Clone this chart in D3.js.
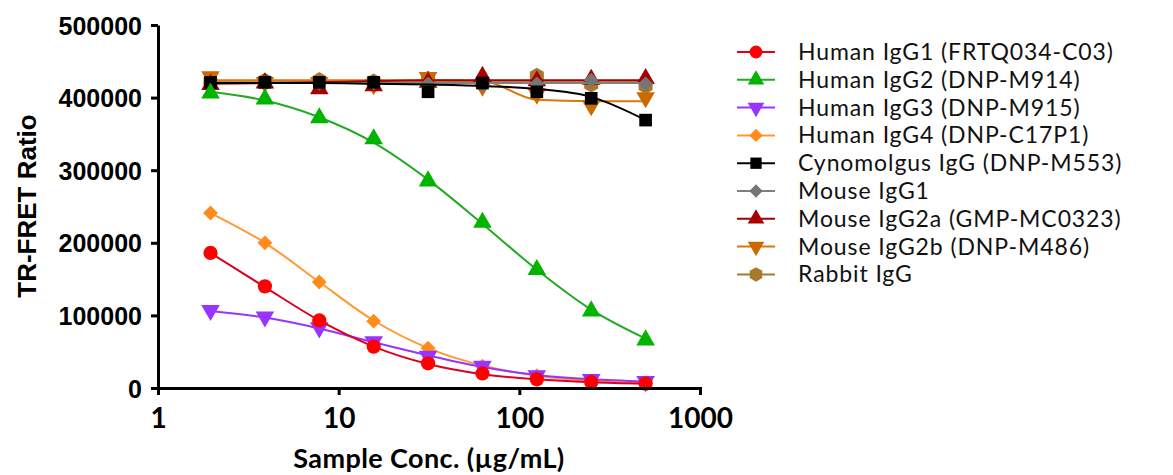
<!DOCTYPE html>
<html lang="en">
<head>
<meta charset="UTF-8" />
<title>TR-FRET Ratio vs Sample Conc.</title>
<script src="https://d3js.org/d3.v7.min.js"></script>
<style>
  body { margin: 0; background: #fff; }
  .axis path, .axis line { stroke: #000; stroke-width: 3px; }
  .ytick text { font: bold 25px "Liberation Sans", Arial, sans-serif; }
  .xtick text { font: bold 28px Lato, "Open Sans", sans-serif; }
  .legend text { font: 23px Lato, "Open Sans", sans-serif; fill: #111; letter-spacing: 0.9px; }
</style>
</head>
<body>
<div id="chart"></div>
<script>
// Concentrations (µg/mL), 2-fold serial dilution
const conc = [1.953, 3.906, 7.8125, 15.625, 31.25, 62.5, 125, 250, 500];

// Series names
const names = [
  "Human IgG1 (FRTQ034-C03)",
  "Human IgG2 (DNP-M914)",
  "Human IgG3 (DNP-M915)",
  "Human IgG4 (DNP-C17P1)",
  "Cynomolgus IgG (DNP-M553)",
  "Mouse IgG1",
  "Mouse IgG2a (GMP-MC0323)",
  "Mouse IgG2b (DNP-M486)",
  "Rabbit IgG"
];

const igg1Pts  = [186000, 140000, 93000, 57000, 34000, 20000, 12000, 8000, 6000];
const igg2Pts  = [406000, 398000, 372000, 343000, 285000, 228000, 163000, 106000, 66000];
const igg3Pts  = [107000, 98000, 83000, 64000, 44000, 30000, 17000, 12000, 9000];
const igg4Pts  = [241000, 200000, 146000, 92000, 55000, 30000, 17000, 10000, 7000];
const cynoPts  = [421000, 421000, 421000, 421000, 408000, 420000, 408000, 399000, 369000];
const m1Pts    = [420000, 421000, 420000, 420000, 419000, 418000, 419000, 424000, 419000];
const m2aPts   = [418000, 420000, 412000, 416000, 421000, 429000, 423000, 425000, 426000];
const m2bPts   = [429000, 421000, 421000, 418000, 428000, 416000, 405000, 389000, 400000];
const rabPts   = [422000, 423000, 424000, 422000, 426000, 420000, 430000, 418000, 416000];

// Fitted curve values at the same concentrations
const igg1Fit  = [186000, 139000, 93000, 57000, 33000, 19000, 12000, 8000, 6000];
const igg2Fit  = [408000, 396000, 373000, 338000, 287000, 226000, 163000, 108000, 68000];
const igg3Fit  = [106000, 97000, 82000, 63000, 45000, 29000, 18000, 12000, 9000];
const igg4Fit  = [241000, 200000, 146000, 93000, 55000, 31000, 17000, 10000, 7000];
const cynoFit  = [420000, 420000, 420000, 419000, 418000, 416000, 412000, 401000, 369000];
const m1Fit    = [420000, 420000, 420000, 420000, 420000, 420000, 420000, 420000, 420000];
const m2aFit   = [419000, 420000, 421000, 423000, 424000, 424000, 424000, 424000, 424000];
const m2bFit   = [424000, 424000, 424000, 424000, 424000, 423000, 397000, 395000, 395000];
const rabFit   = [421000, 421000, 421000, 421000, 421000, 421000, 421000, 421000, 421000];

const pts  = [igg1Pts, igg2Pts, igg3Pts, igg4Pts, cynoPts, m1Pts, m2aPts, m2bPts, rabPts];
const fits = [igg1Fit, igg2Fit, igg3Fit, igg4Fit, cynoFit, m1Fit, m2aFit, m2bFit, rabFit];

const markerColors = ["#ff0000", "#00b400", "#9933ff", "#ff8c1a", "#000000", "#757575", "#a80000", "#cc6a00", "#a8782e"];
const lineColors   = ["#dd0022", "#22aa22", "#9933ff", "#ff9933", "#000000", "#808080", "#a80000", "#d8780a", "#a8782e"];

const xTicks = [1, 10, 100, 1000];
const yTicks = [0, 100000, 200000, 300000, 400000, 500000];

const width = 1173, height = 475;

const svg = d3.select("#chart").append("svg")
  .attr("width", width)
  .attr("height", height);

const x = d3.scaleLog().domain([1, 1000]).range([158, 700]);
const y = d3.scaleLinear().domain([0, 500000]).range([388, 25]);

// custom hexagon marker
const symbolHexagon = {
  draw(ctx, size) {
    const r = Math.sqrt(size / (1.5 * Math.sqrt(3)));
    for (let i = 0; i < 6; i++) {
      const a = Math.PI / 6 + i * Math.PI / 3;
      const px = r * Math.cos(a), py = r * Math.sin(a);
      if (i === 0) ctx.moveTo(px, py); else ctx.lineTo(px, py);
    }
    ctx.closePath();
  }
};

// marker type, size, rotation
const markers = [
  { type: d3.symbolCircle, size: 160, rot: 0 },
  { type: d3.symbolTriangle, size: 150, rot: 0 },
  { type: d3.symbolTriangle, size: 150, rot: 180 },
  { type: d3.symbolSquare, size: 110, rot: 45 },
  { type: d3.symbolSquare, size: 160, rot: 0 },
  { type: d3.symbolSquare, size: 110, rot: 45 },
  { type: d3.symbolTriangle, size: 150, rot: 0 },
  { type: d3.symbolTriangle, size: 150, rot: 180 },
  { type: symbolHexagon, size: 170, rot: 0 }
];

const line = d3.line()
  .x(d => x(d[0]))
  .y(d => y(d[1]))
  .curve(d3.curveMonotoneX);

const plot = svg.append("g");

// draw last series first so Human IgG1 ends up on top
d3.range(names.length).reverse().forEach(i => {
  const g = plot.append("g");
  g.append("path")
    .attr("d", line(conc.map((c, j) => [c, fits[i][j]])))
    .attr("fill", "none")
    .attr("stroke", lineColors[i])
    .attr("stroke-width", 2);
  const sym = d3.symbol().type(markers[i].type).size(markers[i].size);
  g.selectAll("path.pt")
    .data(conc.map((c, j) => [c, pts[i][j]]))
    .join("path")
    .attr("class", "pt")
    .attr("d", sym)
    .attr("fill", markerColors[i])
    .attr("transform", d => `translate(${x(d[0])},${y(d[1])}) rotate(${markers[i].rot})`);
});

// axes
const xAxis = svg.append("g")
  .attr("class", "axis xtick")
  .attr("transform", "translate(0,388)")
  .call(d3.axisBottom(x).tickValues(xTicks).tickFormat(d3.format("d")).tickSize(7).tickSizeOuter(0).tickPadding(13));
xAxis.select(".domain").attr("stroke-linecap", "square");

const yAxis = svg.append("g")
  .attr("class", "axis ytick")
  .attr("transform", "translate(158,0)")
  .call(d3.axisLeft(y).tickValues(yTicks).tickFormat(d3.format("d")).tickSize(7).tickSizeOuter(0).tickPadding(9));
yAxis.selectAll("text").attr("dy", "0.36em");

// axis titles
svg.append("text")
  .attr("transform", "translate(36,206) rotate(-90)")
  .attr("text-anchor", "middle")
  .style("font", "bold 26px 'Liberation Sans', Arial, sans-serif")
  .text("TR-FRET Ratio");

svg.append("text")
  .attr("x", 429)
  .attr("y", 468)
  .attr("text-anchor", "middle")
  .style("font", "bold 27px Lato, 'Open Sans', sans-serif")
  .style("letter-spacing", "0.4px")
  .text("Sample Conc. (µg/mL)");

// legend
const legend = svg.append("g").attr("class", "legend");
names.forEach((n, i) => {
  const ly = 52 + i * 27.8;
  const row = legend.append("g").attr("transform", `translate(0,${ly})`);
  row.append("line")
    .attr("x1", 737).attr("x2", 775)
    .attr("stroke", lineColors[i]).attr("stroke-width", 2);
  row.append("path")
    .attr("d", d3.symbol().type(markers[i].type).size(markers[i].size * 0.8)())
    .attr("fill", markerColors[i])
    .attr("transform", `translate(756,0) rotate(${markers[i].rot})`);
  row.append("text")
    .attr("x", 798)
    .attr("dy", "0.35em")
    .text(n);
});
</script>
</body>
</html>
